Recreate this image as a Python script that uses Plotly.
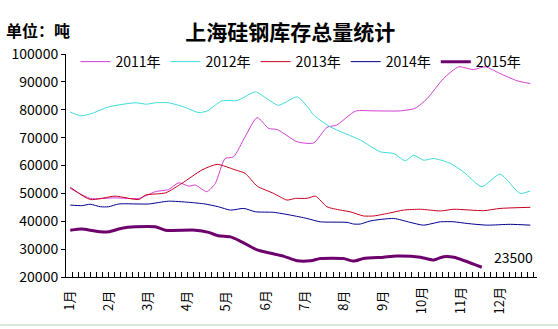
import plotly.graph_objects as go

# ---- data (x in weekly-category units, y in tonnes) ----
months = ["1月", "2月", "3月", "4月", "5月", "6月", "7月", "8月", "9月", "10月", "11月", "12月"]
month_pos = [0.3, 6.75, 13.2, 19.65, 26.1, 32.55, 39.0, 45.45, 51.9, 58.35, 64.8, 71.25]

x2011 = [0.7, 4.0, 8.1, 12.0, 14.7, 16.9, 18.6, 20.2, 21.3, 23.2, 24.6, 26.2, 27.6, 29.5, 31.5, 33.4, 34.8,
         38.1, 40.8, 43.0, 44.6, 47.7, 50.7, 55.1, 57.5, 59.5, 62.2, 64.7, 67.1, 69.1, 71.5, 74.3, 76.5]
y2011 = [51800, 48200, 48400, 48200, 50600, 51400, 53800, 52600, 53000, 50600, 53600, 62500, 63100, 70300, 77200,
         73300, 72900, 68500, 68100, 73700, 74500, 79500, 79600, 79600, 80500, 84000, 91200, 95400, 94400, 95400,
         93000, 90400, 89400]

x2012 = [0.7, 2.5, 4.3, 7.0, 11.4, 13.3, 14.7, 16.9, 19.7, 21.8, 23.2, 25.7, 28.2, 31.2, 33.1, 35.0, 38.1, 40.0,
         40.8, 43.5, 48.5, 51.8, 54.0, 55.9, 57.3, 58.9, 60.6, 63.3, 65.5, 68.5, 71.5, 74.8, 76.5]
y2012 = [79200, 77800, 78700, 81000, 82500, 82000, 82500, 82500, 80800, 79000, 79500, 83200, 83300, 86400, 84000,
         81600, 84600, 80500, 78100, 73900, 69100, 64900, 64300, 61700, 63700, 61900, 62500, 60800, 57700, 52400,
         56900, 50000, 50900]

x2013 = [0.7, 4.0, 8.1, 12.0, 13.1, 16.4, 19.1, 22.4, 24.9, 27.9, 29.5, 31.5, 34.2, 36.4, 37.8, 39.7, 41.1, 43.0,
         45.2, 46.8, 49.0, 50.7, 53.4, 55.6, 58.4, 61.7, 63.9, 68.8, 71.5, 76.5]
y2013 = [52200, 47800, 49000, 47800, 49400, 50200, 53600, 58400, 60400, 58400, 57200, 52600, 50000, 47600, 48200,
         48200, 49000, 45200, 44000, 43400, 41900, 41900, 43000, 44000, 44300, 43700, 44300, 43800, 44600, 45000]

x2014 = [0.7, 2.6, 4.0, 5.7, 7.0, 8.7, 13.6, 16.9, 20.2, 22.9, 25.1, 27.1, 29.3, 31.2, 34.2, 37.0, 39.7, 41.9,
         46.3, 47.4, 48.5, 50.1, 54.0, 56.7, 58.9, 61.7, 63.9, 66.1, 69.4, 73.2, 76.5]
y2014 = [45800, 45600, 46100, 45200, 45200, 46200, 46200, 47200, 46800, 46200, 45200, 44000, 44600, 43400, 43200,
         42200, 41000, 39800, 39600, 39000, 39000, 40100, 41000, 39600, 38600, 39800, 39800, 39200, 38600, 38900,
         38600]

x2015 = [0.7, 2.6, 4.0, 5.7, 7.0, 9.2, 11.4, 14.7, 16.4, 21.3, 23.5, 25.1, 27.1, 28.7, 31.5, 33.7, 35.8, 38.1,
         40.3, 41.9, 45.7, 47.4, 49.0, 52.3, 54.5, 58.4, 60.6, 62.2, 63.9, 68.5]
y2015 = [36800, 37200, 36800, 36200, 36200, 37500, 38000, 38000, 36800, 36800, 36000, 34800, 34400, 32900, 29700,
         28500, 27500, 25800, 25800, 26600, 26600, 25700, 26600, 27100, 27500, 27100, 26100, 27300, 27100, 23500]

series = [
    ("2011年", x2011, y2011, "#d23cd2", 1),
    ("2012年", x2012, y2012, "#3cdcd8", 1),
    ("2013年", x2013, y2013, "#c8001e", 1),
    ("2014年", x2014, y2014, "#000090", 1),
    ("2015年", x2015, y2015, "#6e006e", 3),
]

FONT = "SimSun, 'Noto Sans CJK SC', sans-serif"

fig = go.Figure()
for name, xs, ys, color, w in series:
    fig.add_trace(go.Scatter(x=xs, y=ys, name=name, mode="lines",
                             line=dict(color=color, width=w, shape="spline", smoothing=0.6)))

fig.add_annotation(x=x2015[-1], y=y2015[-1], text=str(y2015[-1]), showarrow=False,
                   xanchor="left", yanchor="middle", xshift=10, yshift=10,
                   font=dict(family=FONT, size=14, color="black"))

# month labels (rotated), below the axis
for m, p in zip(months, month_pos):
    fig.add_annotation(x=p, y=0, xref="x", yref="paper", text=m, showarrow=False,
                       textangle=-90, xanchor="center", yanchor="middle", yshift=-24,
                       font=dict(family=FONT, size=13, color="black"))

fig.add_annotation(x=0.0, y=1.0, xref="paper", yref="paper", xanchor="left", yanchor="middle",
                   text="<b>单位：吨</b>", showarrow=False, xshift=-62, yshift=24,
                   font=dict(family=FONT, size=16, color="black"))

# thin frame line near the bottom edge of the picture
fig.add_shape(type="line", xref="paper", yref="paper", x0=-0.14, x1=1.05, y0=-0.215, y1=-0.215,
              line=dict(color="#b8d4b8", width=1))

fig.update_layout(
    width=558, height=329,
    margin=dict(l=66, r=21, t=54, b=52),
    paper_bgcolor="white", plot_bgcolor="white",
    font=dict(family=FONT, size=13, color="black"),
    title=dict(text="<b>上海硅钢库存总量统计</b>", x=0.52, xanchor="center", y=0.9, yanchor="middle",
               font=dict(family=FONT, size=21, color="black")),
    showlegend=True,
    legend=dict(orientation="h", x=0.02, y=0.964, xanchor="left", yanchor="middle",
                font=dict(family=FONT, size=14), bgcolor="rgba(0,0,0,0)",
                itemwidth=30, tracegroupgap=0),
    xaxis=dict(range=[0, 77.6], showgrid=False, zeroline=False, showline=True, linecolor="black",
               linewidth=1, tickmode="linear", tick0=0, dtick=1, ticks="inside", ticklen=5,
               tickcolor="black", tickwidth=1, showticklabels=True, tickfont=dict(size=1, color="white"),
               tickformat=" "),
    yaxis=dict(range=[20000, 100000], dtick=10000, tickformat="d", showgrid=False, zeroline=False,
               showline=True, linecolor="black", linewidth=1, ticks="outside", ticklen=4,
               tickcolor="black", tickfont=dict(family=FONT, size=14)),
)

fig.write_html("out.html")
